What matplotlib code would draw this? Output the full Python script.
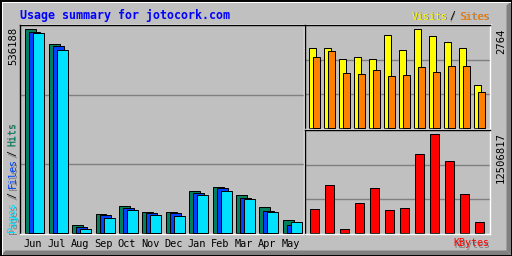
import matplotlib
matplotlib.use("Agg")
import matplotlib.pyplot as plt
import numpy as np
from matplotlib.patches import Polygon

months = ['Jun', 'Jul', 'Aug', 'Sep', 'Oct', 'Nov', 'Dec', 'Jan', 'Feb', 'Mar', 'Apr', 'May']
hits = [536188, 496700, 20270, 49220, 70280, 54490, 54490, 109760, 120290, 99230, 67650, 33430]
files = [529870, 491430, 16580, 46590, 65020, 51850, 51850, 104500, 117660, 91340, 57120, 20270]
pages = [525650, 480900, 9740, 38690, 59750, 46590, 43960, 99230, 109760, 88710, 54490, 28160]
visits = [2229, 2229, 1920, 1976, 1920, 2595, 2173, 2764, 2567, 2398, 2229, 1188]
sites = [1976, 2145, 1526, 1498, 1610, 1441, 1469, 1695, 1554, 1723, 1723, 991]
kbytes = [3041000, 6044000, 469000, 3763000, 5664000, 2876000, 3130000,
          9973000, 12506817, 9085000, 4904000, 1356000]

GREY = '#C0C0C0'
DKGREY = '#808080'
C_HITS, C_FILES, C_PAGES = '#00805C', '#0040FF', '#00E0FF'
C_VISITS, C_SITES, C_KB = '#FFFF00', '#FF8000', '#FF0000'
MONO = 'DejaVu Sans Mono'
LW = 0.72

W, H = 512, 256
fig = plt.figure(figsize=(W / 100, H / 100), dpi=100, facecolor=GREY)

bg = fig.add_axes([0, 0, 1, 1])
bg.set_xlim(0, W)
bg.set_ylim(H, 0)
bg.axis('off')
bg.set_zorder(0)
# outer bevel
bg.add_patch(Polygon([(511, 1), (511, 255), (506.5, 250.5), (506.5, 5.5)], closed=True,
                     facecolor=DKGREY, edgecolor='none'))
bg.add_patch(Polygon([(1, 255), (511, 255), (506.5, 250.5), (5.5, 250.5)], closed=True,
                     facecolor=DKGREY, edgecolor='none'))
bg.plot([1.5, 510], [1.5, 1.5], color='white', lw=LW)
bg.plot([1.5, 1.5], [1.5, 254], color='white', lw=LW)
bg.plot([0.5, 511.5, 511.5, 0.5, 0.5], [0.5, 0.5, 255.5, 255.5, 0.5], color='black', lw=1.4)
# white highlight around inner box
bg.plot([19.5, 491], [23.5, 23.5], color='white', lw=LW)
bg.plot([19.5, 19.5], [23.5, 235], color='white', lw=LW)


def panel(x0, y0, x1, y1):
    ax = fig.add_axes([x0 / W, 1 - y1 / H, (x1 - x0) / W, (y1 - y0) / H])
    ax.set_facecolor(GREY)
    ax.set_zorder(1)
    for s in ['top', 'left']:
        ax.spines[s].set_color('black')
        ax.spines[s].set_linewidth(LW * 1.4)
    for s in ['bottom', 'right']:
        ax.spines[s].set_color('white')
        ax.spines[s].set_linewidth(LW * 1.4)
    ax.set_xticks([])
    ax.set_yticks([])
    return ax


def grid(ax):
    lo, hi = ax.get_ylim()
    for f in (1 / 3, 2 / 3):
        ax.axhline(lo + (hi - lo) * f, color=DKGREY, lw=LW * 1.4, zorder=1)


x = np.arange(len(months))

# main panel: hits/files/pages
ax1 = panel(20, 25, 304, 234)
k1 = max(hits) / 203.7
ax1.set_ylim(-1 * k1, 208 * k1)
ax1.set_xlim(-0.4615, 11.675)
grid(ax1)
bw = 0.47
ax1.bar(x, hits, width=bw, color=C_HITS, edgecolor='black', linewidth=LW, zorder=2)
ax1.bar(x + 0.171, files, width=bw, color=C_FILES, edgecolor='black', linewidth=LW, zorder=3)
ax1.bar(x + 0.342, pages, width=bw, color=C_PAGES, edgecolor='black', linewidth=LW, zorder=4)
for i, m in enumerate(months):
    ax1.text(x[i] + 0.10, -0.0455, m, transform=ax1.get_xaxis_transform(),
             ha='center', va='center', fontsize=7.4, family=MONO, color='black')

# visits/sites panel
ax2 = panel(305, 25, 490, 129)
k2 = max(visits) / 98.2
ax2.set_ylim(-1.5 * k2, 102.5 * k2)
ax2.set_xlim(-0.52, 11.81)
grid(ax2)
ax2.bar(x, visits, width=0.467, color=C_VISITS, edgecolor='black', linewidth=LW, zorder=2)
ax2.bar(x + 0.267, sites, width=0.467, color=C_SITES, edgecolor='black', linewidth=LW, zorder=3)

# kbytes panel
ax3 = panel(305, 130, 490, 234)
k3 = max(kbytes) / 98.7
ax3.set_ylim(-1 * k3, 103 * k3)
ax3.set_xlim(-0.653, 11.68)
grid(ax3)
ax3.bar(x, kbytes, width=0.6, color=C_KB, edgecolor='black', linewidth=LW, zorder=2)


def stxt(xp, yp, s, color, shadow=True, **kw):
    if shadow:
        bg.text(xp + 1, yp + 1, s, color=DKGREY, family=MONO, fontsize=7.2, **kw)
    bg.text(xp, yp, s, color=color, family=MONO, fontsize=7.2, **kw)


# title
bg.text(20, 18.5, 'Usage summary for jotocork.com', color='#0000FF', family=MONO,
        fontsize=8.4, fontweight='bold', ha='left', va='baseline')

# legend top right
stxt(489.5, 16.5, 'Sites', C_SITES, ha='right', va='center')
stxt(452, 16.5, '/', 'black', ha='center', va='center')
stxt(447.5, 16.5, 'Visits', C_VISITS, ha='right', va='center')

# KBytes
stxt(489.5, 243.5, 'KBytes', C_KB, ha='right', va='center')

# left vertical legend
stxt(12.5, 232.5, 'Pages', C_PAGES, rotation=90, ha='center', va='bottom')
stxt(12.5, 198.5, '/', 'black', rotation=90, ha='center', va='bottom')
stxt(12.5, 188.5, 'Files', C_FILES, rotation=90, ha='center', va='bottom')
stxt(12.5, 156.5, '/', 'black', rotation=90, ha='center', va='bottom')
stxt(12.5, 145.5, 'Hits', C_HITS, rotation=90, ha='center', va='bottom')

# max labels
bg.text(13, 26.5, f'{max(hits)}', rotation=90, ha='center', va='top', family=MONO,
        fontsize=7.6, color='black')
bg.text(501, 28, f'{max(visits)}', rotation=90, ha='center', va='top', family=MONO,
        fontsize=7.6, color='black')
bg.text(501, 132, f'{max(kbytes)}', rotation=90, ha='center', va='top', family=MONO,
        fontsize=7.6, color='black')

fig.savefig('out.png', dpi=100, facecolor=GREY)
